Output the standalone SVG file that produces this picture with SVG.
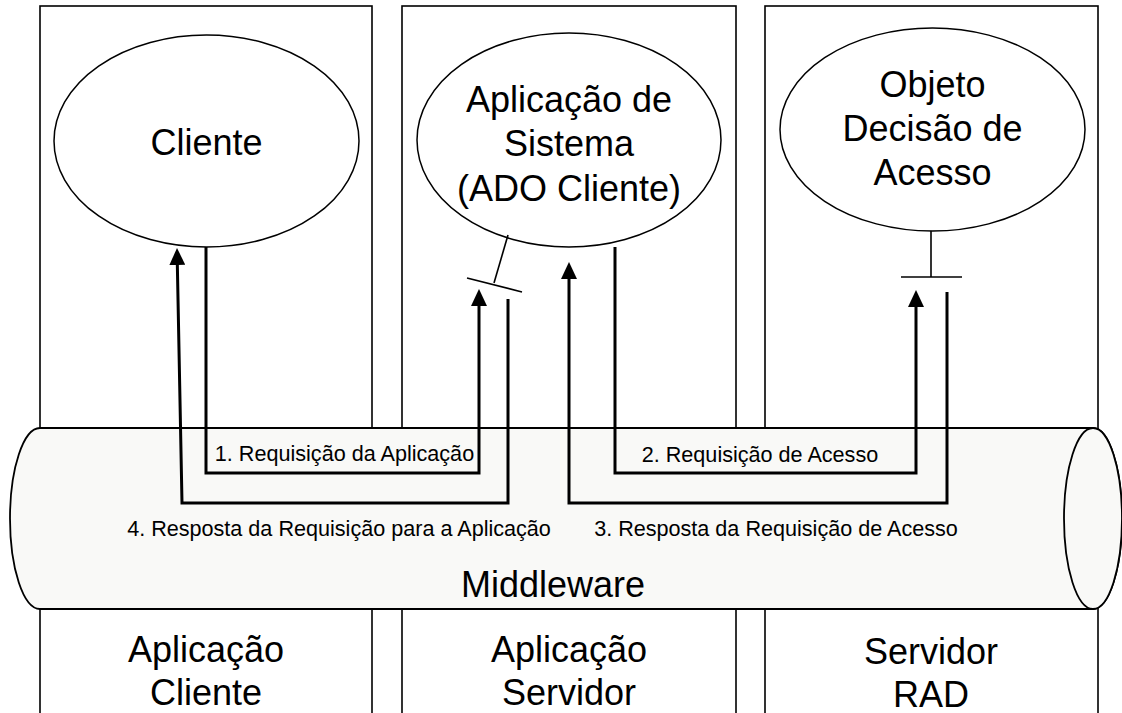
<svg xmlns="http://www.w3.org/2000/svg" width="1122" height="713" viewBox="0 0 1122 713">
<style>
.col{fill:#ffffff;stroke:#000;stroke-width:1.6}
.ell{fill:#ffffff;stroke:#000;stroke-width:1.5}
.cyl{fill:#f9f9f7;stroke:#000;stroke-width:1.8}
.big{font-family:"Liberation Sans",Arial,sans-serif;font-size:36px;fill:#000;text-anchor:middle}
.lbl{font-family:"Liberation Sans",Arial,sans-serif;font-size:21.6px;fill:#000;text-anchor:middle}
.con{fill:none;stroke:#000;stroke-width:3}
.itf{fill:none;stroke:#000;stroke-width:1.6}
</style>
<defs>
<marker id="arr" markerUnits="userSpaceOnUse" markerWidth="17" markerHeight="16" refX="7" refY="8" orient="auto" viewBox="0 0 17 16">
<path d="M0,0 L17,8 L0,16 Z" fill="#000"/>
</marker>
</defs>
<rect width="1122" height="713" fill="#ffffff"/>
<g id="columns">
<rect id="col-cliente" class="col" x="40" y="6" width="332" height="730"/>
<rect id="col-servidor" class="col" x="402" y="6" width="334" height="730"/>
<rect id="col-rad" class="col" x="765" y="6" width="333" height="730"/>
</g>
<g id="middleware">
<path class="cyl" d="M40,428 H1093 A29,90.5 0 0 1 1093,609 H40 A30,90.5 0 0 1 40,428 Z"/>
<ellipse class="cyl" cx="1093" cy="518.5" rx="29" ry="90.5"/>
<text class="big" x="553" y="597">Middleware</text>
</g>
<g id="cliente">
<ellipse class="ell" cx="206.5" cy="141" rx="152.5" ry="106"/>
<text class="big" x="206.5" y="155">Cliente</text>
</g>
<g id="ado-cliente">
<ellipse class="ell" cx="569" cy="140" rx="152" ry="107"/>
<text class="big" x="569" y="112">Aplicação de</text>
<text class="big" x="569" y="156">Sistema</text>
<text class="big" x="569" y="201">(ADO Cliente)</text>
<line class="itf" x1="508" y1="235" x2="494" y2="283"/>
<line class="itf" x1="467" y1="278" x2="522" y2="292"/>
</g>
<g id="ado">
<ellipse class="ell" cx="932.5" cy="129.5" rx="152.5" ry="101.5"/>
<text class="big" x="932.5" y="97">Objeto</text>
<text class="big" x="932.5" y="141">Decisão de</text>
<text class="big" x="932.5" y="185">Acesso</text>
<line class="itf" x1="931" y1="231" x2="931" y2="277"/>
<line class="itf" x1="901" y1="277" x2="962" y2="277"/>
</g>
<g id="connectors">
<path class="con" d="M206,247 V473 H479 V299" marker-end="url(#arr)"/>
<path class="con" d="M615,247 V473 H916 V300" marker-end="url(#arr)"/>
<path class="con" d="M947,292 V503 H569 V272" marker-end="url(#arr)"/>
<path class="con" d="M508,299 V503 H182 L177.2,258" marker-end="url(#arr)"/>
<text class="lbl" x="344.5" y="461">1. Requisição da Aplicação</text>
<text class="lbl" x="760" y="462">2. Requisição de Acesso</text>
<text class="lbl" x="776" y="536">3. Resposta da Requisição de Acesso</text>
<text class="lbl" x="339" y="536">4. Resposta da Requisição para a Aplicação</text>
</g>
<g id="labels">
<text class="big" x="206" y="662">Aplicação</text>
<text class="big" x="206" y="705">Cliente</text>
<text class="big" x="569" y="662">Aplicação</text>
<text class="big" x="569" y="705">Servidor</text>
<text class="big" x="931" y="664">Servidor</text>
<text class="big" x="931" y="707">RAD</text>
</g>
</svg>
